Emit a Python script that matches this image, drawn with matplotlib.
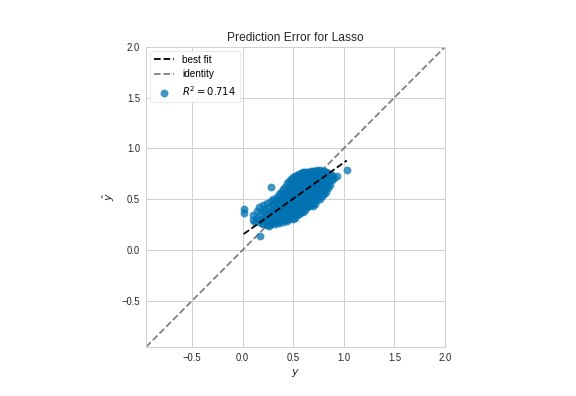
import matplotlib
matplotlib.use("Agg")
import matplotlib.pyplot as plt
import numpy as np

# ---- data ----
y_true = [
    0.01, 0.01, 0.17, 0.28,
    0.10, 0.10, 0.12, 0.14, 0.14, 0.16, 0.16, 0.18, 0.18,
    0.20, 0.20, 0.20, 0.20, 0.22, 0.22, 0.22,
    0.24, 0.24, 0.24, 0.24, 0.26, 0.26, 0.26, 0.26,
    0.28, 0.28, 0.28, 0.28, 0.30, 0.30, 0.30, 0.30, 0.30,
    0.32, 0.32, 0.32, 0.32, 0.32, 0.34, 0.34, 0.34, 0.34, 0.34,
    0.36, 0.36, 0.36, 0.36, 0.36, 0.36, 0.38, 0.38, 0.38, 0.38, 0.38, 0.38,
    0.40, 0.40, 0.40, 0.40, 0.40, 0.40, 0.40,
    0.42, 0.42, 0.42, 0.42, 0.42, 0.42, 0.42,
    0.44, 0.44, 0.44, 0.44, 0.44, 0.44, 0.44, 0.44,
    0.46, 0.46, 0.46, 0.46, 0.46, 0.46, 0.46, 0.46,
    0.48, 0.48, 0.48, 0.48, 0.48, 0.48, 0.48, 0.48,
    0.50, 0.50, 0.50, 0.50, 0.50, 0.50, 0.50, 0.50, 0.50,
    0.52, 0.52, 0.52, 0.52, 0.52, 0.52, 0.52, 0.52, 0.52,
    0.54, 0.54, 0.54, 0.54, 0.54, 0.54, 0.54, 0.54, 0.54,
    0.56, 0.56, 0.56, 0.56, 0.56, 0.56, 0.56, 0.56, 0.56,
    0.58, 0.58, 0.58, 0.58, 0.58, 0.58, 0.58, 0.58, 0.58,
    0.60, 0.60, 0.60, 0.60, 0.60, 0.60, 0.60, 0.60, 0.60,
    0.62, 0.62, 0.62, 0.62, 0.62, 0.62, 0.62, 0.62, 0.62,
    0.64, 0.64, 0.64, 0.64, 0.64, 0.64, 0.64, 0.64,
    0.66, 0.66, 0.66, 0.66, 0.66, 0.66, 0.66, 0.66,
    0.68, 0.68, 0.68, 0.68, 0.68, 0.68, 0.68, 0.68,
    0.70, 0.70, 0.70, 0.70, 0.70, 0.70, 0.70, 0.70,
    0.72, 0.72, 0.72, 0.72, 0.72, 0.72, 0.72, 0.72,
    0.74, 0.74, 0.74, 0.74, 0.74, 0.74, 0.74,
    0.76, 0.76, 0.76, 0.76, 0.76, 0.76, 0.76,
    0.78, 0.78, 0.78, 0.78, 0.78, 0.78,
    0.80, 0.80, 0.80, 0.80, 0.80, 0.80,
    0.82, 0.82, 0.82, 0.82, 0.82,
    0.84, 0.84, 0.84, 0.84,
    0.86, 0.86, 0.86, 0.88, 0.88, 0.90, 0.93, 1.03,
]
y_pred = [
    0.40, 0.36, 0.14, 0.62,
    0.30, 0.34, 0.28, 0.38, 0.32, 0.30, 0.42, 0.35, 0.27,
    0.44, 0.38, 0.31, 0.26, 0.40, 0.33, 0.28,
    0.46, 0.36, 0.25, 0.30, 0.42, 0.34, 0.24, 0.29,
    0.48, 0.38, 0.31, 0.26, 0.45, 0.40, 0.35, 0.28, 0.50,
    0.43, 0.37, 0.30, 0.26, 0.48, 0.52, 0.46, 0.40, 0.34, 0.28,
    0.55, 0.44, 0.38, 0.32, 0.27, 0.49, 0.50, 0.45, 0.41, 0.36, 0.30, 0.57,
    0.60, 0.53, 0.47, 0.42, 0.38, 0.33, 0.28,
    0.62, 0.56, 0.50, 0.45, 0.40, 0.35, 0.30,
    0.66, 0.58, 0.52, 0.47, 0.43, 0.38, 0.32, 0.29,
    0.68, 0.61, 0.55, 0.50, 0.45, 0.41, 0.36, 0.31,
    0.70, 0.64, 0.57, 0.52, 0.47, 0.43, 0.38, 0.33,
    0.72, 0.66, 0.60, 0.54, 0.49, 0.45, 0.40, 0.35, 0.31,
    0.73, 0.68, 0.62, 0.56, 0.51, 0.46, 0.42, 0.36, 0.32,
    0.74, 0.69, 0.64, 0.58, 0.53, 0.48, 0.43, 0.38, 0.34,
    0.75, 0.70, 0.65, 0.60, 0.55, 0.50, 0.45, 0.40, 0.35,
    0.76, 0.71, 0.66, 0.61, 0.56, 0.51, 0.46, 0.41, 0.37,
    0.77, 0.72, 0.67, 0.62, 0.57, 0.52, 0.47, 0.42, 0.37,
    0.77, 0.73, 0.68, 0.63, 0.58, 0.53, 0.48, 0.43, 0.39,
    0.77, 0.72, 0.67, 0.62, 0.57, 0.52, 0.47, 0.42,
    0.77, 0.73, 0.69, 0.64, 0.59, 0.54, 0.49, 0.43,
    0.78, 0.74, 0.70, 0.65, 0.60, 0.55, 0.50, 0.44,
    0.78, 0.73, 0.68, 0.63, 0.58, 0.53, 0.47, 0.43,
    0.78, 0.74, 0.70, 0.65, 0.60, 0.55, 0.50, 0.45,
    0.79, 0.75, 0.70, 0.65, 0.60, 0.55, 0.49,
    0.79, 0.74, 0.69, 0.64, 0.59, 0.54, 0.50,
    0.78, 0.73, 0.68, 0.63, 0.58, 0.53,
    0.78, 0.74, 0.69, 0.64, 0.59, 0.55,
    0.77, 0.72, 0.67, 0.62, 0.57,
    0.76, 0.71, 0.66, 0.61,
    0.75, 0.70, 0.64, 0.74, 0.69, 0.71, 0.73, 0.79,
]
fit_slope = 0.71
fit_intercept = 0.15
r2_score = 0.714
axis_limits = (-0.955, 2.0)
tick_values = [-0.5, 0.0, 0.5, 1.0, 1.5, 2.0]
title_text = "Prediction Error for Lasso"

# ---- style ----
plt.rcParams["font.family"] = ["Liberation Sans", "DejaVu Sans"]
grid_col = "#d0d0d0"

fig = plt.figure(figsize=(8, 5.5), dpi=72)
ax = fig.add_axes([0.2535, 0.1237, 0.519, 0.758])
ax.set_facecolor("white")

ax.scatter(y_true, y_pred, s=62, color="#0072B2", alpha=0.75, linewidths=0,
           label=r"$R^2 = %0.3f$" % r2_score, zorder=3)

xf = np.linspace(min(y_true), max(y_true), 50)
ax.plot(xf, fit_intercept + fit_slope * xf, color="black", ls="--", lw=1.8,
        label="best fit", zorder=4)
ax.plot(axis_limits, axis_limits, color="#808080", ls="--", lw=1.8,
        label="identity", zorder=2)

ax.set_xlim(*axis_limits)
ax.set_ylim(*axis_limits)
ax.set_xticks(tick_values)
ax.set_yticks(tick_values)
ax.grid(True, color=grid_col, lw=1.0, zorder=0)
ax.set_axisbelow(True)
for sp in ax.spines.values():
    sp.set_color(grid_col)
    sp.set_linewidth(1.0)
ax.tick_params(length=0, labelsize=9.5, colors="#262626", pad=6)

ax.set_title(title_text, fontsize=12, color="#262626", pad=6)
ax.set_xlabel(r"$y$", fontsize=11, color="#262626")
ax.set_ylabel(r"$\hat{y}$", fontsize=11, color="#262626")

handles, labels = ax.get_legend_handles_labels()
order = [labels.index("best fit"), labels.index("identity"),
         labels.index(r"$R^2 = %0.3f$" % r2_score)]
leg = ax.legend([handles[i] for i in order], [labels[i] for i in order],
                loc="upper left", frameon=True, fontsize=10, facecolor="white",
                edgecolor="#e8e8e8", framealpha=0.9, borderaxespad=0.4,
                labelspacing=0.45)

fig.savefig("out.png", dpi=72)
